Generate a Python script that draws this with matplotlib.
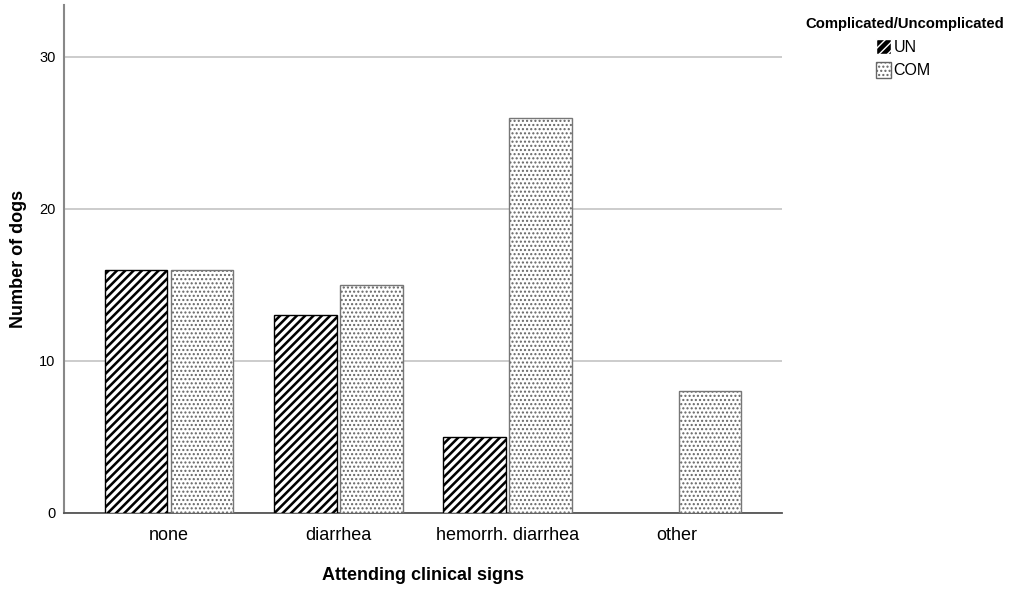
import numpy as np
import matplotlib.pyplot as plt
from matplotlib.patches import Patch

plt.rcParams['font.family'] = ['Liberation Sans', 'DejaVu Sans']
plt.rcParams['hatch.linewidth'] = 2.4

categories = ['none', 'diarrhea', 'hemorrh. diarrhea', 'other']
un_counts = [16, 13, 5, 0]
com_counts = [16, 15, 26, 8]
series_names = ['UN', 'COM']
legend_title = 'Complicated/Uncomplicated'

fig = plt.figure(figsize=(10.13, 5.90), dpi=100)
ax = fig.add_axes([64 / 1013, 77 / 590, 718 / 1013, 508 / 590])

ind = np.arange(len(categories))
w = 0.37
off = 0.195

# UN: black fill with white diagonal stripes, black outline drawn on top
un_lw = [1.0 if v > 0 else 0 for v in un_counts]
ax.bar(ind - off, un_counts, w, color='black', edgecolor='white',
       hatch='////', linewidth=0, zorder=3)
ax.bar(ind - off, un_counts, w, fill=False, edgecolor='black',
       linewidth=un_lw, zorder=4)

# COM: white fill, grey dots
plt.rcParams['hatch.linewidth'] = 1.0
ax.bar(ind + off, com_counts, w, color='white', edgecolor='#666666',
       hatch='....', linewidth=0, zorder=3)
ax.bar(ind + off, com_counts, w, fill=False, edgecolor='#777777',
       linewidth=1.0, zorder=4)

ax.set_xlim(-0.62, 3.62)
ax.set_ylim(0, 33.4)
ax.set_yticks([0, 10, 20, 30])
ax.set_xticks(ind)
ax.set_xticklabels(categories, fontsize=13)
ax.tick_params(axis='y', labelsize=10.5, length=0, pad=6)
ax.tick_params(axis='x', length=0, pad=10)
ax.yaxis.grid(True, color='#c8c8c8', linewidth=1.3, zorder=0)
ax.set_axisbelow(True)

for s in ['top', 'right']:
    ax.spines[s].set_visible(False)
ax.spines['left'].set_color('#888888')
ax.spines['left'].set_linewidth(1.5)
ax.spines['bottom'].set_color('#555555')
ax.spines['bottom'].set_linewidth(1.3)

ax.set_xlabel('Attending clinical signs', fontsize=13, fontweight='bold', labelpad=17)
ax.set_ylabel('Number of dogs', fontsize=13, fontweight='bold', labelpad=9)

fig.text(805 / 1013, 1 - 24 / 590, legend_title, fontsize=10.7,
         fontweight='bold', ha='left', va='center')
handles = [Patch(facecolor='black', edgecolor='white', hatch='////', label=series_names[0]),
           Patch(facecolor='white', edgecolor='#666666', hatch='....', label=series_names[1])]
leg = fig.legend(handles=handles, loc='upper left',
                 bbox_to_anchor=(876 / 1013, 1 - 39 / 590),
                 frameon=False, fontsize=11.5, handlelength=0.95, handleheight=1.1,
                 handletextpad=0.15, labelspacing=0.45, borderpad=0,
                 borderaxespad=0)

fig.savefig('out.png', dpi=100)
